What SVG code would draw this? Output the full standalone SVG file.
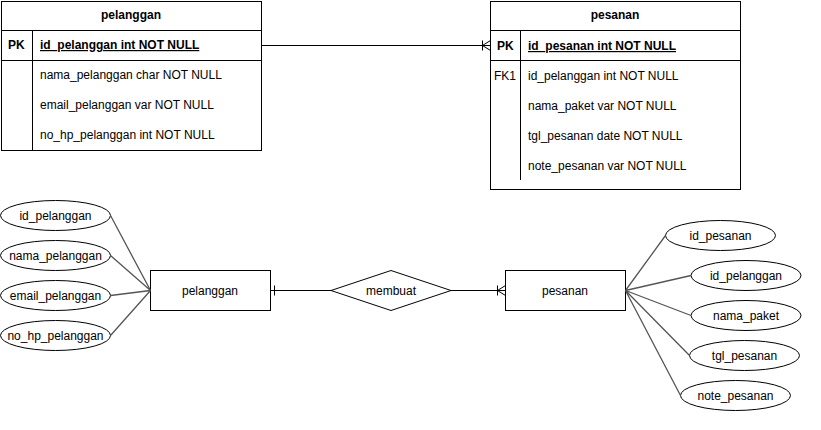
<svg xmlns="http://www.w3.org/2000/svg" width="821" height="430" viewBox="0 0 821 430">
<style>
text{font-family:"Liberation Sans",Arial,sans-serif;font-size:12px;fill:#000}
.c{text-anchor:middle}
.b{font-weight:bold}
.u{text-decoration:underline}
.box{fill:#fff;stroke:#000;stroke-width:1}
.ln{fill:none;stroke:#000;stroke-width:1}
.at{fill:none;stroke:#555;stroke-width:1.3}
</style>
<rect width="821" height="430" fill="#fff"/>
<g id="table-pelanggan">
<rect class="box" x="1.5" y="1.5" width="260" height="149"/>
<line class="ln" x1="1.5" y1="30.5" x2="261.5" y2="30.5"/>
<line class="ln" x1="1.5" y1="60.5" x2="261.5" y2="60.5"/>
<line class="ln" x1="32.5" y1="30.5" x2="32.5" y2="150.5"/>
<text class="c b" x="131" y="19">pelanggan</text>
<text class="b" x="8" y="49">PK</text>
<text class="b u" x="40" y="49">id_pelanggan int NOT NULL</text>
<text x="40" y="79">nama_pelanggan char NOT NULL</text>
<text x="40" y="109">email_pelanggan var NOT NULL</text>
<text x="40" y="139">no_hp_pelanggan int NOT NULL</text>
</g>
<g id="table-pesanan">
<rect class="box" x="490.5" y="1.5" width="250" height="188"/>
<line class="ln" x1="490.5" y1="30.5" x2="740.5" y2="30.5"/>
<line class="ln" x1="490.5" y1="60.5" x2="740.5" y2="60.5"/>
<line class="ln" x1="520.5" y1="30.5" x2="520.5" y2="180"/>
<text class="c b" x="615" y="19">pesanan</text>
<text class="b" x="497" y="50">PK</text>
<text class="b u" x="528" y="50">id_pesanan int NOT NULL</text>
<text x="494" y="80">FK1</text>
<text x="528" y="80">id_pelanggan int NOT NULL</text>
<text x="528" y="110">nama_paket var NOT NULL</text>
<text x="528" y="140">tgl_pesanan date NOT NULL</text>
<text x="528" y="170">note_pesanan var NOT NULL</text>
</g>
<g id="ent-pelanggan">
<rect class="box" x="150.5" y="270.5" width="120" height="40"/>
<text class="c" x="210" y="295">pelanggan</text>
</g>
<g id="rel-membuat">
<polygon class="box" points="331,290.5 391,270.5 451,290.5 391,310.5"/>
<text class="c" x="391" y="295">membuat</text>
</g>
<g id="ent-pesanan">
<rect class="box" x="505.5" y="270.5" width="120" height="40"/>
<text class="c" x="565" y="295">pesanan</text>
</g>
<g id="attr-id_pelanggan"><ellipse class="box" cx="55.5" cy="215.5" rx="55" ry="15"/><text class="c" x="55.5" y="220">id_pelanggan</text></g>
<g id="attr-nama_pelanggan"><ellipse class="box" cx="55.5" cy="255.5" rx="55" ry="15"/><text class="c" x="55.5" y="260">nama_pelanggan</text></g>
<g id="attr-email_pelanggan"><ellipse class="box" cx="55.5" cy="295.5" rx="55" ry="15"/><text class="c" x="55.5" y="300">email_pelanggan</text></g>
<g id="attr-no_hp_pelanggan"><ellipse class="box" cx="55.5" cy="335.5" rx="55" ry="15"/><text class="c" x="55.5" y="340">no_hp_pelanggan</text></g>
<g id="attr-id_pesanan"><ellipse class="box" cx="720.5" cy="235.5" rx="55" ry="15"/><text class="c" x="720.5" y="240">id_pesanan</text></g>
<g id="attr-id_pelanggan2"><ellipse class="box" cx="746" cy="275.5" rx="55" ry="15"/><text class="c" x="746" y="280">id_pelanggan</text></g>
<g id="attr-nama_paket"><ellipse class="box" cx="746" cy="315.5" rx="55" ry="15"/><text class="c" x="746" y="320">nama_paket</text></g>
<g id="attr-tgl_pesanan"><ellipse class="box" cx="744.5" cy="355.5" rx="55" ry="15"/><text class="c" x="744.5" y="360">tgl_pesanan</text></g>
<g id="attr-note_pesanan"><ellipse class="box" cx="735.5" cy="395.5" rx="55" ry="15"/><text class="c" x="735.5" y="400">note_pesanan</text></g>
<g id="connectors">
<path class="ln" d="M261.5 45.5H490.5M482.5 40.5V50.5M482.5 45.5L490.5 40.5M482.5 45.5L490.5 50.5"/>
<path class="ln" d="M270.5 290.5H331M274.5 285.5V295.5"/>
<path class="ln" d="M451 290.5H505.5M497.5 285.5V295.5M497.5 290.5L505.5 285.5M497.5 290.5L505.5 295.5"/>
<path class="at" d="M110.5 215.5L150.5 290.5M110.5 255.5L150.5 290.5M110.5 295.5L150.5 290.5M110.5 335.5L150.5 290.5"/>
<path class="at" d="M625.5 290.5L665.5 235.5M625.5 290.5L691 275.5M625.5 290.5L691 315.5M625.5 290.5L689.5 355.5M625.5 290.5L680.5 395.5"/>
</g>
</svg>
